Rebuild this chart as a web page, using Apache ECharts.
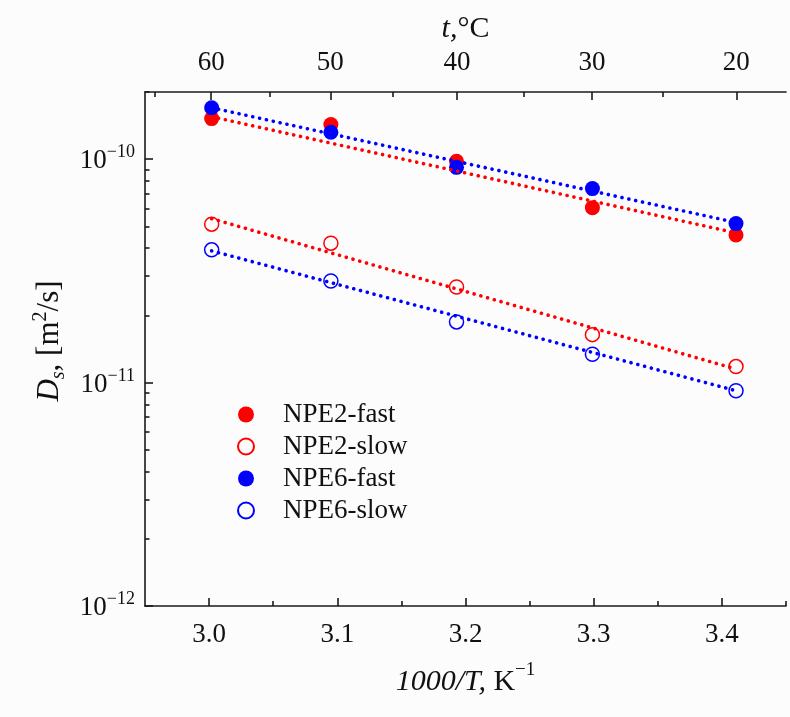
<!DOCTYPE html>
<html>
<head>
<meta charset="utf-8">
<script src="https://cdn.jsdelivr.net/npm/echarts@6/dist/echarts.min.js"></script>
<style>
html,body{margin:0;padding:0;background:#fcfcfc;}
#chart{width:790px;height:717px;}
</style>
</head>
<body>
<div id="chart"></div>
<script>
// x positions (1000/T, K^-1) for 60, 50, 40, 30, 20 °C
var xVals = [3.002, 3.095, 3.193, 3.299, 3.411];
var npe2Fast = [1.52e-10, 1.43e-10, 0.98e-10, 6.07e-11, 4.58e-11];
var npe2Slow = [5.12e-11, 4.21e-11, 2.68e-11, 1.64e-11, 1.18e-11];
var npe6Fast = [1.70e-10, 1.32e-10, 0.92e-10, 7.39e-11, 5.15e-11];
var npe6Slow = [3.93e-11, 2.85e-11, 1.87e-11, 1.34e-11, 0.92e-11];
// fitted lines endpoints
var fitX = [3.002, 3.411];
var fitNpe2Fast = [1.55e-10, 4.68e-11];
var fitNpe2Slow = [5.42e-11, 1.15e-11];
var fitNpe6Fast = [1.70e-10, 5.21e-11];
var fitNpe6Slow = [3.89e-11, 0.92e-11];
// tick labels
var bottomTicks = [3.0, 3.1, 3.2, 3.3, 3.4];
var bottomMinor = [3.05, 3.15, 3.25, 3.35, 3.45];
var topTemps = [60, 50, 40, 30, 20];
var topMinorTemps = [65, 55, 45, 35, 25];
var yMajor = [1e-12, 1e-11, 1e-10];
var yMinor = [2e-12,3e-12,4e-12,5e-12,6e-12,7e-12,8e-12,9e-12,2e-11,3e-11,4e-11,5e-11,6e-11,7e-11,8e-11,9e-11,2e-10];

function pairs(xs, ys){ return xs.map(function(x,i){ return [x, ys[i]]; }); }
function tToX(t){ return 1000/(t+273.15); }

var FONT = 'Liberation Serif';
var AX = '#1a1a1a';
var TXT = '#111';
var RED = '#ff0000', BLUE = '#0000ff';

var chart = echarts.init(document.getElementById('chart'));
var axisLineStyle = {show:true, lineStyle:{color:AX, width:1.6}};
var dots = {width:3.6, type:[0.1,6.9], cap:'round'};

var option = {
  backgroundColor:'#fcfcfc',
  animation:false,
  grid:{left:145, right:4, top:92, bottom:111, containLabel:false, outerBoundsMode:'none'},
  legend:{
    orient:'vertical', left:232, top:396,
    itemWidth:16, itemHeight:16, itemGap:5,
    data:['NPE2-fast','NPE2-slow','NPE6-fast','NPE6-slow'],
    textStyle:{fontFamily:FONT, fontSize:27, color:TXT, padding:[0,0,0,24]}
  },
  xAxis:[
    {type:'value', position:'bottom', min:2.95, max:3.45,
     axisLine:axisLineStyle, splitLine:{show:false},
     axisTick:{inside:true, length:8, lineStyle:{color:AX,width:1.6}, customValues:bottomTicks},
     axisLabel:{customValues:bottomTicks, margin:15, fontFamily:FONT, fontSize:27, color:TXT,
       formatter:function(v){ return v.toFixed(1); }},
     name:'{i|1000/T,}{r| K}{sup|−1}', nameLocation:'middle', nameGap:55,
     nameTextStyle:{fontFamily:FONT, fontSize:30, color:TXT, rich:{
       i:{fontFamily:FONT, fontStyle:'italic', fontSize:30, lineHeight:36, verticalAlign:'bottom', color:TXT},
       r:{fontFamily:FONT, fontSize:30, lineHeight:36, verticalAlign:'bottom', color:TXT},
       sup:{fontFamily:FONT, fontSize:19, lineHeight:19, verticalAlign:'top', color:TXT}}}
    },
    {type:'value', position:'bottom', min:2.95, max:3.45,
     axisLine:{show:false}, splitLine:{show:false}, axisLabel:{show:false},
     axisTick:{inside:true, length:5, lineStyle:{color:AX,width:1.6}, customValues:bottomMinor}
    },
    {type:'value', position:'top', min:2.95, max:3.45,
     axisLine:axisLineStyle, splitLine:{show:false},
     axisTick:{inside:true, length:8, lineStyle:{color:AX,width:1.6}, customValues:topTemps.map(tToX)},
     axisLabel:{customValues:topTemps.map(tToX), margin:16, fontFamily:FONT, fontSize:27, color:TXT,
       formatter:function(v){ return String(Math.round(1000/v - 273.15)); }},
     name:'{i|t,}{r|°C}', nameLocation:'middle', nameGap:47,
     nameTextStyle:{fontFamily:FONT, fontSize:30, color:TXT, rich:{
       i:{fontFamily:FONT, fontStyle:'italic', fontSize:30, color:TXT},
       r:{fontFamily:FONT, fontSize:30, color:TXT}}}
    },
    {type:'value', position:'top', min:2.95, max:3.45,
     axisLine:{show:false}, splitLine:{show:false}, axisLabel:{show:false},
     axisTick:{inside:true, length:5, lineStyle:{color:AX,width:1.6}, customValues:topMinorTemps.map(tToX)}
    }
  ],
  yAxis:[
    {type:'log', logBase:10, min:1e-12, max:2e-10, position:'left',
     axisLine:axisLineStyle, splitLine:{show:false},
     axisTick:{inside:true, length:8, lineStyle:{color:AX,width:1.6}, customValues:yMajor},
     axisLabel:{customValues:yMajor, margin:10, fontFamily:FONT, color:TXT,
       formatter:function(v){ var e = Math.round(Math.log10(v)); return '{b|10}{s|−' + (-e) + '}'; },
       rich:{b:{fontFamily:FONT, fontSize:27, lineHeight:31, verticalAlign:'bottom', color:TXT},
             s:{fontFamily:FONT, fontSize:18, lineHeight:18, verticalAlign:'top', color:TXT}}},
     name:'{i|D}{sub|s}{r|, [m}{sup|2}{r|/s]}', nameLocation:'middle', nameGap:76, nameRotate:90,
     nameTextStyle:{fontFamily:FONT, fontSize:30, color:TXT, padding:[0,0,0,16], rich:{
       i:{fontFamily:FONT, fontStyle:'italic', fontSize:31, lineHeight:38, verticalAlign:'middle', color:TXT},
       sub:{fontFamily:FONT, fontStyle:'italic', fontSize:20, lineHeight:20, verticalAlign:'bottom', color:TXT},
       r:{fontFamily:FONT, fontSize:31, lineHeight:38, verticalAlign:'middle', color:TXT},
       sup:{fontFamily:FONT, fontSize:20, lineHeight:20, verticalAlign:'top', color:TXT}}}
    },
    {type:'log', logBase:10, min:1e-12, max:2e-10, position:'left',
     axisLine:{show:false}, splitLine:{show:false}, axisLabel:{show:false},
     axisTick:{inside:true, length:4.5, lineStyle:{color:AX,width:1.6}, customValues:yMinor}
    }
  ],
  series:[
    {name:'NPE2-fast', type:'scatter', symbol:'circle', symbolSize:15, data:pairs(xVals,npe2Fast),
     itemStyle:{color:RED, opacity:1}, z:2},
    {name:'NPE2-slow', type:'scatter', symbol:'circle', symbolSize:14, data:pairs(xVals,npe2Slow),
     itemStyle:{color:'rgba(255,255,255,0)', borderColor:RED, borderWidth:1.5, opacity:1}, z:2},
    {name:'NPE6-fast', type:'scatter', symbol:'circle', symbolSize:15, data:pairs(xVals,npe6Fast),
     itemStyle:{color:BLUE, opacity:1}, z:2},
    {name:'NPE6-slow', type:'scatter', symbol:'circle', symbolSize:14, data:pairs(xVals,npe6Slow),
     itemStyle:{color:'rgba(255,255,255,0)', borderColor:BLUE, borderWidth:1.5, opacity:1}, z:2},
    {name:'fit6f', type:'line', data:pairs(fitX,fitNpe6Fast), showSymbol:false, symbol:'none', z:3,
     lineStyle:Object.assign({color:BLUE}, dots)},
    {name:'fit6s', type:'line', data:pairs(fitX,fitNpe6Slow), showSymbol:false, symbol:'none', z:3,
     lineStyle:Object.assign({color:BLUE}, dots)},
    {name:'fit2f', type:'line', data:pairs(fitX,fitNpe2Fast), showSymbol:false, symbol:'none', z:3,
     lineStyle:Object.assign({color:RED}, dots)},
    {name:'fit2s', type:'line', data:pairs(fitX,fitNpe2Slow), showSymbol:false, symbol:'none', z:3,
     lineStyle:Object.assign({color:RED}, dots)}
  ]
};
chart.setOption(option);
</script>
</body>
</html>
